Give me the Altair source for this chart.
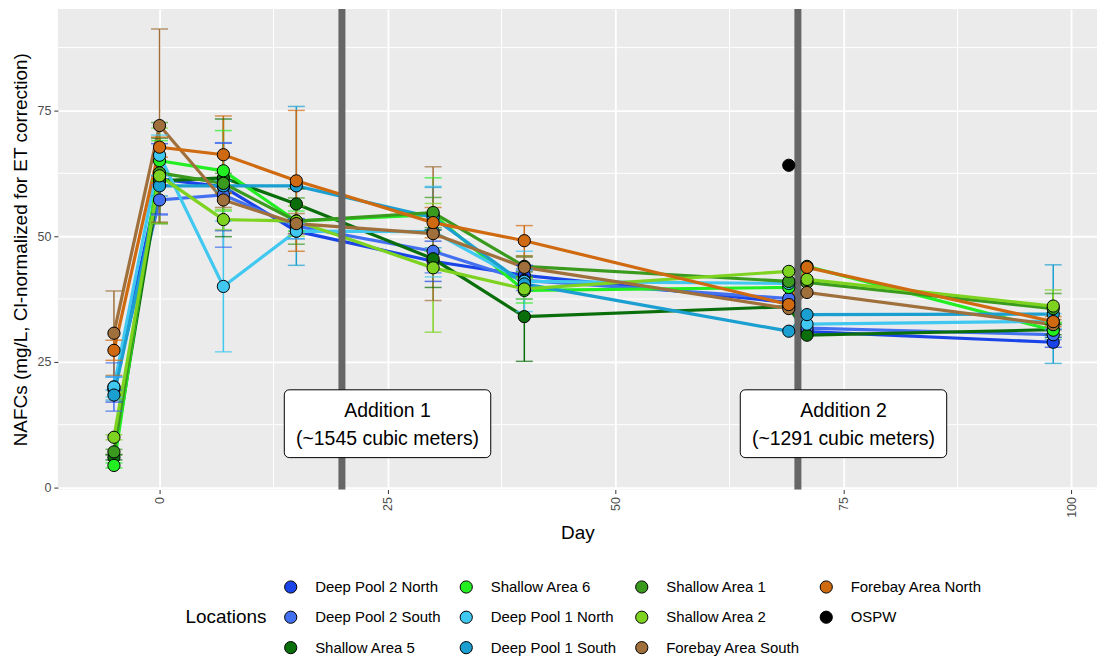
import altair as alt
import pandas as pd

# ---------------- data ----------------
days = [-5, 0, 7, 15, 30, 40, 69, 71, 98]

locations = ["Deep Pool 2 North", "Deep Pool 2 South", "Shallow Area 5", "Shallow Area 6",
             "Deep Pool 1 North", "Deep Pool 1 South", "Shallow Area 1", "Shallow Area 2",
             "Forebay Area South", "Forebay Area North"]

dp2n = [19.5, 61.4, 59.8, 51.0, 45.0, 42.2, 36.8, 31.0, 28.9]
dp2s = [20.0, 57.2, 58.2, 52.0, 47.0, 41.2, 37.6, 31.7, 30.4]
sa5 = [6.0, 61.0, 61.6, 56.4, 45.5, 34.0, 36.0, 30.3, 31.4]
sa6 = [4.4, 65.0, 63.0, 53.0, 54.3, 39.2, 39.8, 44.0, 31.3]
dp1n = [20.0, 66.1, 40.0, 51.0, 50.9, 41.0, 40.6, 32.5, 33.1]
dp1s = [18.4, 60.0, 60.0, 60.0, 53.7, 40.5, 31.1, 34.4, 34.5]
sa1 = [7.1, 62.6, 60.5, 53.0, 54.7, 44.0, 41.0, 40.8, 35.6]
sa2 = [10.0, 62.0, 53.3, 53.0, 43.7, 39.5, 43.0, 41.4, 36.1]
fas = [30.7, 72.0, 57.2, 52.5, 50.5, 43.8, 35.6, 38.8, 32.4]
fan = [27.3, 67.7, 66.2, 61.0, 52.7, 49.1, 36.4, 43.8, 33.0]

dp2n_sd = [2.5, 7.0, 8.7, 1.5, 4.0, 2.0, None, None, 1.0]
dp2s_sd = [4.8, 3.0, 10.4, 1.5, 4.3, 2.0, None, None, 1.0]
sa5_sd = [0.5, 8.5, 11.7, 3.0, 5.7, 8.9, None, None, 1.0]
sa6_sd = [0.5, 4.0, 8.0, 2.0, 7.3, 2.5, None, None, 1.5]
dp1n_sd = [2.0, 4.0, 13.0, 1.5, 9.0, 6.0, None, None, 1.5]
dp1s_sd = [1.0, 2.0, 1.0, 15.8, 6.0, 3.0, None, None, 9.8]
sa1_sd = [0.5, 10.0, 2.0, 4.6, 3.0, 2.0, None, None, 3.0]
sa2_sd = [0.5, 9.5, 2.0, 3.0, 12.8, 2.0, None, None, 3.2]
fas_sd = [8.4, 19.2, 1.5, 2.0, 13.3, 2.0, None, None, 1.0]
fan_sd = [2.0, 2.0, 7.7, 14.0, 3.0, 3.0, None, None, 1.0]

ospw_day = [69]
ospw_value = [64.1]

series_values = [dp2n, dp2s, sa5, sa6, dp1n, dp1s, sa1, sa2, fas, fan]
series_sd = [dp2n_sd, dp2s_sd, sa5_sd, sa6_sd, dp1n_sd, dp1s_sd, sa1_sd, sa2_sd, fas_sd, fan_sd]

legend_order = locations + ["OSPW"]
legend_colors = ["#1a44e8", "#4270f0", "#0a6e0a", "#22ee22", "#40c8f0",
                 "#1a9fd0", "#3a9a1e", "#7ed321", "#a0703c", "#d06a10", "#000000"]

addition_days = [20, 70]
annot_days = [25, 75]
annot_values = [12.7, 12.7]
annot_texts = ["Addition 1\n(~1545 cubic meters)", "Addition 2\n(~1291 cubic meters)"]

minor_x = [12.5, 37.5, 62.5, 87.5]
minor_y = [12.5, 37.5, 62.5, 87.5]

# ---------------- tables ----------------
rows = []
err_rows = []
for loc, vals, sds in zip(locations, series_values, series_sd):
    for d, v, s in zip(days, vals, sds):
        rows.append({"location": loc, "day": d, "value": v})
        if s is not None:
            err_rows.append({"location": loc, "day": d, "low": v - s, "high": v + s})
for d, v in zip(ospw_day, ospw_value):
    rows.append({"location": "OSPW", "day": d, "value": v})
df = pd.DataFrame(rows)
err = pd.DataFrame(err_rows)
vlines = pd.DataFrame({"day": addition_days})
annot = pd.DataFrame({"day": annot_days, "value": annot_values, "text": annot_texts})
mx = pd.DataFrame({"day": minor_x})
my = pd.DataFrame({"value": minor_y})

FONT = "Liberation Sans"
xscale = alt.Scale(domain=[-11.15, 102.8], nice=False, zero=False)
yscale = alt.Scale(domain=[-0.4, 95.2], nice=False, zero=False)
cscale = alt.Scale(domain=legend_order, range=legend_colors)

X = alt.X("day:Q", scale=xscale,
          axis=alt.Axis(values=[0, 25, 50, 75, 100], title="Day", labelAngle=270,
                        labelPadding=3, titlePadding=6, format="d"))
Y = alt.Y("value:Q", scale=yscale,
          axis=alt.Axis(values=[0, 25, 50, 75], title="NAFCs (mg/L, Cl-normalized for ET correction)",
                        labelPadding=3, titlePadding=7, format="d"))

grid_x = alt.Chart(mx).mark_rule(color="white", strokeWidth=1).encode(x=X)
grid_y = alt.Chart(my).mark_rule(color="white", strokeWidth=1).encode(y=Y)

lines = alt.Chart(df).mark_line(strokeWidth=3.2).encode(
    x=X, y=Y, color=alt.Color("location:N", scale=cscale, legend=None),
    detail="location:N")

ebar = alt.Chart(err).mark_rule(strokeWidth=1.5).encode(
    x="day:Q", y="low:Q", y2="high:Q",
    color=alt.Color("location:N", scale=cscale, legend=None))
cap_lo = alt.Chart(err).mark_tick(orient="horizontal", size=17, thickness=1.5).encode(
    x="day:Q", y="low:Q", color=alt.Color("location:N", scale=cscale, legend=None))
cap_hi = alt.Chart(err).mark_tick(orient="horizontal", size=17, thickness=1.5).encode(
    x="day:Q", y="high:Q", color=alt.Color("location:N", scale=cscale, legend=None))

vl = alt.Chart(vlines).mark_rule(color="#666666", strokeWidth=7).encode(x="day:Q")

points = alt.Chart(df).mark_circle(size=150, opacity=1, stroke="black", strokeWidth=1).encode(
    x="day:Q", y="value:Q",
    color=alt.Color("location:N", scale=cscale,
                    legend=alt.Legend(title="Locations", orient="none", legendX=128, legendY=572,
                                      columns=4, titleOrient="left", titleAnchor="middle",
                                      symbolType="circle", symbolSize=150,
                                      symbolStrokeColor="black", symbolStrokeWidth=1,
                                      symbolOpacity=1,
                                      labelFontSize=15, titleFontSize=19, titleFontWeight="normal",
                                      labelOffset=17, rowPadding=13.5, columnPadding=17,
                                      titlePadding=16, labelFont=FONT, titleFont=FONT,
                                      labelColor="black", titleColor="black")))

boxes = alt.Chart(annot).mark_rect(width=207, height=68, fill="white", stroke="black",
                                   strokeWidth=1, cornerRadius=5).encode(x="day:Q", y="value:Q")
texts = alt.Chart(annot).mark_text(fontSize=19.5, font=FONT, color="black", lineBreak="\n",
                                   lineHeight=28, baseline="middle", align="center", dy=-13).encode(
    x="day:Q", y="value:Q", text="text:N")

chart = alt.layer(grid_x, grid_y, lines, ebar, cap_lo, cap_hi, vl, points, boxes, texts).resolve_legend(
    color="independent"
).properties(
    width=1042, height=482,
    autosize=alt.AutoSizeParams(type="none"),
    padding={"left": 50, "top": 0, "right": 0, "bottom": 172},
).configure_view(fill="#EBEBEB", strokeWidth=0).configure_axis(
    grid=True, gridColor="white", gridWidth=1.8, domain=False,
    tickColor="#333333", tickSize=4, tickWidth=1,
    labelColor="#4D4D4D", labelFontSize=12.5, labelFont=FONT,
    titleFont=FONT, titleFontSize=19, titleFontWeight="normal", titleColor="black")

chart.save("out.html", embed_options={"renderer": "svg", "actions": False})
